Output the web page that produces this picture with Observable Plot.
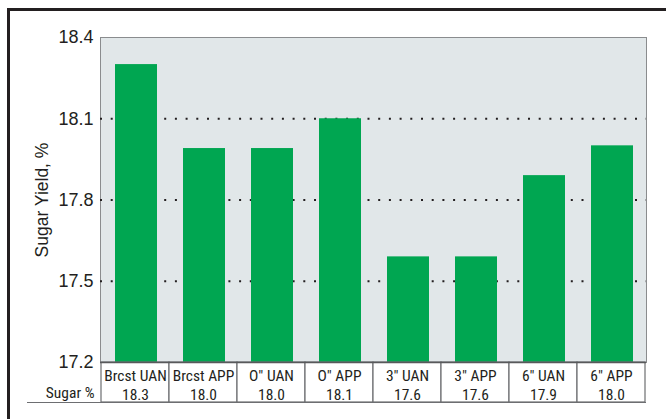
<!DOCTYPE html>
<html><head><meta charset="utf-8">
<script src="https://cdn.jsdelivr.net/npm/d3@7"></script>
<script src="https://cdn.jsdelivr.net/npm/@observablehq/plot@0.6"></script>
<style>
body{margin:0;background:#fff;}
#wrap{position:relative;width:666px;height:419px;overflow:hidden;}
#chart svg{font-family:'Liberation Sans', Arial, sans-serif;}
#frame{position:absolute;left:7px;top:8px;width:700px;height:450px;border-top:3px solid #231f20;border-left:3px solid #231f20;pointer-events:none;}
</style></head><body>
<div id="wrap"><div id="chart"></div><div id="frame"></div></div>
<script>
const categories = ["Brcst UAN", "Brcst APP", "O\" UAN", "O\" APP", "3\" UAN", "3\" APP", "6\" UAN", "6\" APP"];
const yields = [18.3, 17.99, 17.99, 18.1, 17.59, 17.59, 17.89, 18.0];
const yieldLabels = ["18.3", "18.0", "18.0", "18.1", "17.6", "17.6", "17.9", "18.0"];
const yTicks = [17.2, 17.5, 17.8, 18.1, 18.4];
const gridTicks = [17.5, 17.8, 18.1];
const rowTitle = "Sugar %";
const yTitle = "Sugar Yield, %";

const data = categories.map((c, i) => ({cat: c, yield: yields[i], label: yieldLabels[i]}));
const yDomain = [17.2, 18.4];
const plotH = 419 - 37 - 57;
const rowBottom = yDomain[0] - 40 * (yDomain[1] - yDomain[0]) / plotH;
const narrow = "'Roboto Condensed', 'DejaVu Sans Condensed', sans-serif";
const regular = "'Liberation Sans', Arial, sans-serif";
const ink = "#231f20";

const chart = Plot.plot({
  width: 666, height: 419,
  marginLeft: 100, marginRight: 20, marginTop: 37, marginBottom: 57,
  style: {fontFamily: regular, color: ink, background: "transparent"},
  x: {domain: categories, padding: 0, axis: null},
  y: {domain: yDomain, axis: null},
  marks: [
    Plot.frame({fill: "#e1e7e9", stroke: "#8a8c8e"}),
    Plot.ruleY(gridTicks, {stroke: ink, strokeWidth: 2, strokeDasharray: "2,8.7"}),
    Plot.barY(data, {x: "cat", y1: yDomain[0], y2: "yield", fill: "#00a651", insetLeft: 14, insetRight: 12}),
    Plot.barY(data, {x: "cat", y1: yDomain[0], y2: rowBottom, fill: "white", stroke: "#6d6e71", strokeWidth: 1.2}),
    Plot.ruleY([yDomain[0]], {stroke: "#58595b", strokeWidth: 1.5}),
    Plot.ruleY([rowBottom], {insetLeft: -73, stroke: "#6d6e71", strokeWidth: 1.2}),
    Plot.text(data, {x: "cat", y: yDomain[0], text: d => d.cat + "\n" + d.label, lineAnchor: "top", dy: 6, lineHeight: 1.17, fontFamily: narrow, fontSize: 15.5, fill: ink}),
    Plot.text([rowTitle], {frameAnchor: "bottom-left", textAnchor: "end", lineAnchor: "top", dx: -6, dy: 24, fontFamily: narrow, fontSize: 15.5, fill: ink}),
    Plot.axisY({ticks: yTicks, tickSize: 0, tickPadding: 7, tickFormat: d3.format(".1f"), label: null, fontSize: 18, fontFamily: regular, fill: ink}),
    Plot.text([yTitle], {frameAnchor: "left", textAnchor: "middle", lineAnchor: "middle", rotate: -90, dx: -58, fontSize: 17.5, fontFamily: regular, fill: ink})
  ]
});
document.getElementById("chart").appendChild(chart);
</script>
</body></html>
